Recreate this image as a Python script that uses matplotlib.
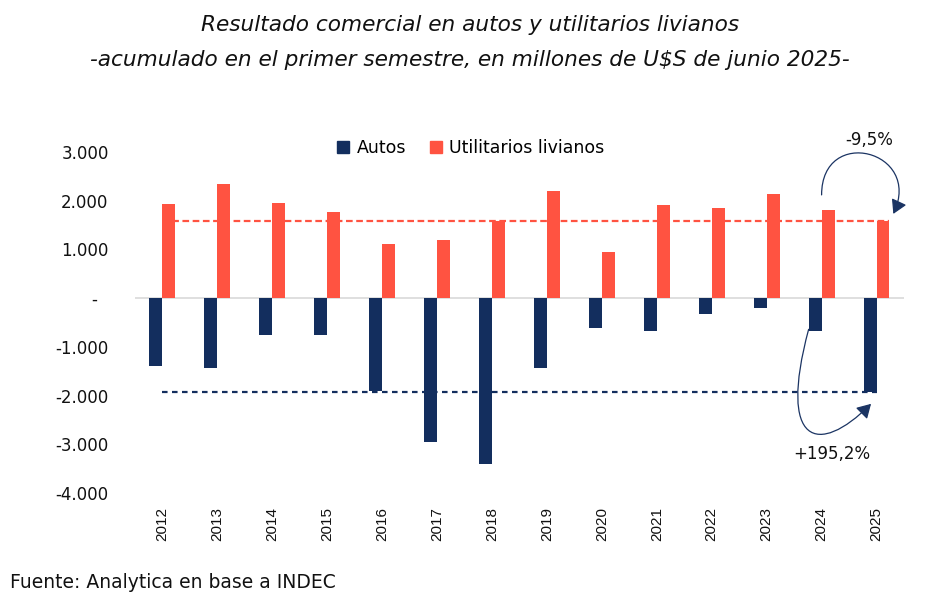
import matplotlib.pyplot as plt
import numpy as np
from matplotlib.patches import ConnectionStyle, FancyArrowPatch, Patch
from matplotlib.path import Path

years = ["2012", "2013", "2014", "2015", "2016", "2017", "2018",
         "2019", "2020", "2021", "2022", "2023", "2024", "2025"]
autos = [-1400, -1430, -750, -750, -1900, -2960, -3400,
         -1430, -620, -670, -320, -210, -670, -1920]
utilitarios = [1940, 2350, 1960, 1770, 1120, 1200, 1590,
               2190, 950, 1920, 1850, 2140, 1810, 1590]
y_ticks = [3000, 2000, 1000, 0, -1000, -2000, -3000, -4000]
y_tick_labels = ["3.000", "2.000", "1.000", "-  ", "-1.000", "-2.000",
                 "-3.000", "-4.000"]
var_util = "-9,5%"
var_autos = "+195,2%"

NAVY = "#132e5e"
RED = "#ff5341"
TXT = "#111111"


class CubicArc(ConnectionStyle._Base):
    """Cubic bezier leaving A at angleA and reaching B from angleB."""

    def __init__(self, angleA, lenA, angleB, lenB):
        self.angleA = angleA
        self.lenA = lenA
        self.angleB = angleB
        self.lenB = lenB

    def connect(self, posA, posB):
        xa, ya = posA
        xb, yb = posB
        a = np.radians(self.angleA)
        b = np.radians(self.angleB)
        c1 = (xa + self.lenA * np.cos(a), ya + self.lenA * np.sin(a))
        c2 = (xb + self.lenB * np.cos(b), yb + self.lenB * np.sin(b))
        return Path([posA, c1, c2, posB],
                    [Path.MOVETO, Path.CURVE4, Path.CURVE4, Path.CURVE4])


plt.rcParams["font.family"] = ["DejaVu Sans"]

fig = plt.figure(figsize=(9.4, 6.16), dpi=100)
ax = fig.add_axes([0.1436, 0.1997, 0.8181, 0.5535])

x = np.arange(len(years))
w = 0.236
ax.bar(x - w / 2, autos, width=w, color=NAVY, zorder=2)
ax.bar(x + w / 2, utilitarios, width=w, color=RED, zorder=2)

ax.axhline(0, color="#d9d9d9", lw=1.2, zorder=1)

# reference lines at the 2025 level
ax.plot([x[0], x[-1] + w], [utilitarios[-1]] * 2, color=RED, lw=1.6,
        linestyle=(0, (3, 1.6)), zorder=3)
ax.plot([x[0], x[-1]], [autos[-1]] * 2, color=NAVY, lw=1.6,
        linestyle=(0, (2.5, 2)), zorder=3)

ax.set_xlim(-0.5, len(years) - 0.5)
ax.set_ylim(-4000, 3000)
ax.set_yticks(y_ticks)
ax.set_yticklabels(y_tick_labels, fontsize=12, color=TXT)
ax.set_xticks(x)
ax.set_xticklabels(years, rotation=90, fontsize=11,
                   family="Liberation Sans", color=TXT)
ax.tick_params(axis="y", length=0, pad=19)
ax.tick_params(axis="x", length=0, pad=10)
for s in ax.spines.values():
    s.set_visible(False)

# curved arrows with the 2024 -> 2025 variation
head = "-|>,head_length=0.6,head_width=0.35"
arr1 = FancyArrowPatch((x[-2], utilitarios[-2] + 310),
                       (x[-1] + w + 0.07, utilitarios[-1] + 140),
                       connectionstyle=CubicArc(90, 70, 65, 70),
                       arrowstyle=head, mutation_scale=14, color="#1b3463",
                       lw=0.9, shrinkA=0, shrinkB=0, clip_on=False, zorder=4)
ax.add_patch(arr1)
arr2 = FancyArrowPatch((x[-2] - w, autos[-2] + 30),
                       (x[-1] - 0.1, autos[-1] - 250),
                       connectionstyle=CubicArc(255, 120, 225, 75),
                       arrowstyle=head, mutation_scale=14, color="#1b3463",
                       lw=0.9, shrinkA=0, shrinkB=0, clip_on=False, zorder=4)
ax.add_patch(arr2)

ax.text(x[-1] - 0.13, 3250, var_util, fontsize=12, ha="center",
        va="center", color=TXT)
ax.text(x[-2] + 0.18, -3200, var_autos, fontsize=12, ha="center",
        va="center", color=TXT)

handles = [Patch(color=NAVY, label="Autos"),
           Patch(color=RED, label="Utilitarios livianos")]
fig.legend(handles=handles, loc="center", bbox_to_anchor=(0.501, 0.760),
           ncol=2, frameon=False, fontsize=12.5, handlelength=0.7,
           handleheight=0.7, handletextpad=0.4, columnspacing=1.4)

fig.text(0.5, 1 - 25 / 616, "Resultado comercial en autos y utilitarios livianos",
         ha="center", va="center", fontsize=15.6, style="italic", color=TXT)
fig.text(0.5, 1 - 60 / 616,
         "-acumulado en el primer semestre, en millones de U$S de junio 2025-",
         ha="center", va="center", fontsize=15.6, style="italic", color=TXT)
fig.text(10 / 940, 1 - 583 / 616, "Fuente: Analytica en base a INDEC",
         ha="left", va="center", fontsize=13.5, color=TXT)

fig.savefig("out.png", dpi=100)
